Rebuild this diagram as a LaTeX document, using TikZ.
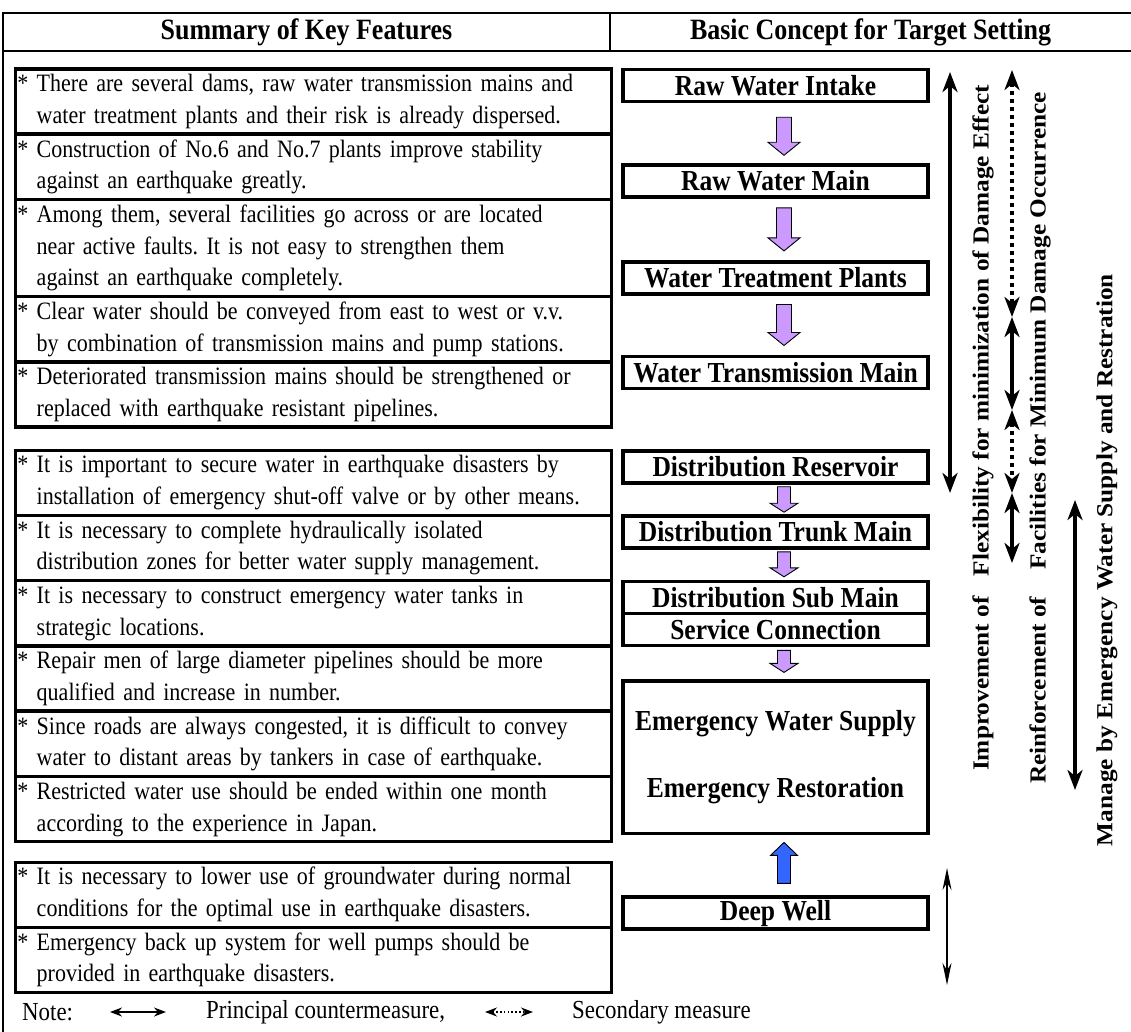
\documentclass[tikz,border=0pt]{standalone}
\usepackage{fontspec}
\setmainfont{Liberation Serif}[FakeStretch=0.88]
\newfontfamily\longserif{Liberation Serif}[FakeStretch=1.1]
\usetikzlibrary{arrows.meta,positioning,calc,fit}
\definecolor{pipeviolet}{HTML}{CC99FF}
\definecolor{wellblue}{HTML}{3366FF}
\frenchspacing
\newcommand{\hg}{\hphantom{*}\ }
% block arrow pointing down, from the upper node to the lower one
\newcommand{\pipedown}[8][parr]{%
  \path[#1] let \p1=($(#2.south)+(8.5,-#4)$), \p2=($(#3.north)+(8.5,#5)$) in
    (\x1-#6,\y1) -- (\x1+#6,\y1) -- (\x1+#6,\y2+#8) -- (\x1+#7,\y2+#8) -- (\x1,\y2)
    -- (\x1-#7,\y2+#8) -- (\x1-#6,\y2+#8) -- cycle;}
% block arrow pointing up, from the lower node to the upper one
\newcommand{\pipeup}[8][barr]{%
  \path[#1] let \p1=($(#2.north)+(8.5,#4)$), \p2=($(#3.south)+(8.5,-#5)$) in
    (\x1-#6,\y1) -- (\x1+#6,\y1) -- (\x1+#6,\y2-#8) -- (\x1+#7,\y2-#8) -- (\x1,\y2)
    -- (\x1-#7,\y2-#8) -- (\x1-#6,\y2-#8) -- cycle;}
\tikzset{
  edgeline/.style={line width=2.6pt},
  hdr/.style={font=\fontsize{29.5}{32}\selectfont\bfseries,inner sep=0pt},
  feat/.style={draw,line width=1.8pt,minimum width=595pt,text width=592pt,align=left,inner xsep=1.5pt,inner ysep=0pt,font=\fontsize{25}{31.75}\selectfont},
  feat2/.style={feat,minimum height=63.5pt},
  feat3/.style={feat,minimum height=95.25pt},
  grp/.style={draw,line width=3pt,inner sep=0pt},
  stage/.style={draw,line width=3.6pt,minimum width=305.4pt,minimum height=32pt,inner xsep=2pt,inner ysep=0pt,align=center,font=\fontsize{29}{34}\selectfont\bfseries},
  parr/.style={draw=black,line width=0.9pt,fill=pipeviolet},
  barr/.style={draw=black,line width=0.9pt,fill=wellblue},
  dbl/.style={{Stealth[length=20pt,width=15pt,inset=6pt]}-{Stealth[length=20pt,width=15pt,inset=6pt]},line width=3.5pt},
  dbldot/.style={dbl,dash pattern=on 4pt off 4pt},
  vlbl/.style={rotate=90,font=\longserif\fontsize{23}{28}\selectfont\bfseries,inner sep=0pt},
  nlbl/.style={font=\fontsize{26}{30}\selectfont,inner sep=0pt,anchor=west},
  narr/.style={{Stealth[length=12pt,width=9pt]}-{Stealth[length=12pt,width=9pt]},line width=1.6pt},
}
\begin{document}
\begin{tikzpicture}[x=1pt,y=1pt]
  \useasboundingbox (0,0) rectangle (1131,-1032);
  \fill[white] (0,0) rectangle (1131,-1032);

  % frame and header
  \draw[edgeline] (3,-1040) -- (3,-13) -- (1140,-13);
  \draw[edgeline] (3,-51) -- (1140,-51);
  \draw[edgeline] (610,-13) -- (610,-51);
  \node[hdr] (h1) at (306.5,-32) {Summary of Key Features};
  \node[hdr] (h2) at (870.5,-32) {Basic Concept for Target Setting};

  % key features, first group
  \node[feat2,anchor=north west] (k1) at (15,-69) {* There are several dams, raw water transmission mains and\\ \hg water treatment plants and their risk is already dispersed.};
  \node[feat2,below=0pt of k1] (k2) {* Construction of No.6 and No.7 plants improve stability\\ \hg against an earthquake greatly.};
  \node[feat3,below=0pt of k2] (k3) {* Among them, several facilities go across or are located\\ \hg near active faults. It is not easy to strengthen them\\ \hg against an earthquake completely.};
  \node[feat2,below=0pt of k3] (k4) {* Clear water should be conveyed from east to west or v.v.\\ \hg by combination of transmission mains and pump stations.};
  \node[feat2,below=0pt of k4] (k5) {* Deteriorated transmission mains should be strengthened or\\ \hg replaced with earthquake resistant pipelines.};
  \node[grp,fit=(k1)(k5)] (g1) {};

  % second group
  \node[feat2,anchor=north west] (m1) at (15,-450) {* It is important to secure water in earthquake disasters by\\ \hg installation of emergency shut-off valve or by other means.};
  \node[feat2,below=0pt of m1] (m2) {* It is necessary to complete hydraulically isolated\\ \hg distribution zones for better water supply management.};
  \node[feat2,below=0pt of m2] (m3) {* It is necessary to construct emergency water tanks in\\ \hg strategic locations.};
  \node[feat2,below=0pt of m3] (m4) {* Repair men of large diameter pipelines should be more\\ \hg qualified and increase in number.};
  \node[feat2,below=0pt of m4] (m5) {* Since roads are always congested, it is difficult to convey\\ \hg water to distant areas by tankers in case of earthquake.};
  \node[feat2,below=0pt of m5] (m6) {* Restricted water use should be ended within one month\\ \hg according to the experience in Japan.};
  \node[grp,fit=(m1)(m6)] (g2) {};

  % third group
  \node[feat2,anchor=north west] (n1) at (15,-862) {* It is necessary to lower use of groundwater during normal\\ \hg conditions for the optimal use in earthquake disasters.};
  \node[feat2,below=0pt of n1] (n2) {* Emergency back up system for well pumps should be\\ \hg provided in earthquake disasters.};
  \node[grp,fit=(n1)(n2)] (g3) {};

  % target setting chain
  \node[stage] (rwi) at (775.5,-85.5) {Raw Water Intake};
  \node[stage,below=60pt of rwi] (rwm) {Raw Water Main};
  \node[stage,below=61pt of rwm] (wtp) {Water Treatment Plants};
  \node[stage,below=59pt of wtp] (wtm) {Water Transmission Main};
  \node[stage,below=59pt of wtm] (dr) {Distribution Reservoir};
  \node[stage,below=29.5pt of dr] (dtm) {Distribution Trunk Main};
  \node[stage,below=30pt of dtm] (dsm) {Distribution Sub Main};
  \node[stage,below=-3.6pt of dsm] (sc) {Service Connection};
  \node[stage,below=32pt of sc,minimum height=152.4pt,font=\fontsize{29}{67}\selectfont\bfseries] (ews) {Emergency Water Supply\\Emergency Restoration};
  \node[stage,below=60pt of ews] (dw) {Deep Well};

  \pipedown{rwi}{rwm}{14}{8}{7.5}{16}{13}
  \pipedown{rwm}{wtp}{9}{9}{7.5}{16}{13}
  \pipedown{wtp}{wtm}{9}{9}{7.5}{16}{13}
  \pipedown{dr}{dtm}{2}{2}{6.5}{14}{9}
  \pipedown{dtm}{dsm}{2}{3}{6.5}{14}{9}
  \pipedown{sc}{ews}{3}{7}{6.5}{14}{9}
  \pipeup{dw}{ews}{12}{7}{6.5}{13.5}{13}

  % measures on the right
  \coordinate (a1) at (950,-72);  \coordinate (a2) at (950,-493);
  \coordinate (b1) at (1012,-70); \coordinate (b2) at (1012,-317);
  \coordinate (b3) at (1012,-410); \coordinate (b4) at (1012,-493);
  \coordinate (b5) at (1012,-563);
  \coordinate (c1) at (1075,-500); \coordinate (c2) at (1075,-790);
  \coordinate (d1) at (947,-868); \coordinate (d2) at (947,-985);
  \draw[dbl] (a1) -- (a2);
  \draw[dbldot] (b1) -- (b2);
  \draw[dbl] (b2) -- (b3);
  \draw[dbldot] (b3) -- (b4);
  \draw[dbl] (b4) -- (b5);
  \draw[dbl] (c1) -- (c2);
  \draw[{Stealth[length=22pt,width=9pt]}-{Stealth[length=22pt,width=9pt]},line width=1.4pt] (d1) -- (d2);

  \node[vlbl] (imp) at (983,-428) {Improvement of\hspace{0.6em} Flexibility for minimization of Damage Effect};
  \node[vlbl] (rei) at (1040,-438) {Reinforcement of\hspace{0.9em} Facilities for Minimum Damage Occurrence};
  \node[vlbl] (man) at (1107,-560) {Manage by Emergency Water Supply and Restration};

  % note
  \node[nlbl] (nt) at (22,-1012) {Note:};
  \coordinate (p1) at (110,-1012); \coordinate (p2) at (166,-1012);
  \draw[narr] (p1) -- (p2);
  \node[nlbl] (pc) at (206,-1012) {Principal countermeasure,};
  \coordinate (q1) at (485,-1012); \coordinate (q2) at (533,-1012);
  \draw[narr,dash pattern=on 1.6pt off 2.2pt] (q1) -- (q2);
  \node[nlbl] (sm) at (572,-1012) {Secondary measure};
\end{tikzpicture}
\end{document}
